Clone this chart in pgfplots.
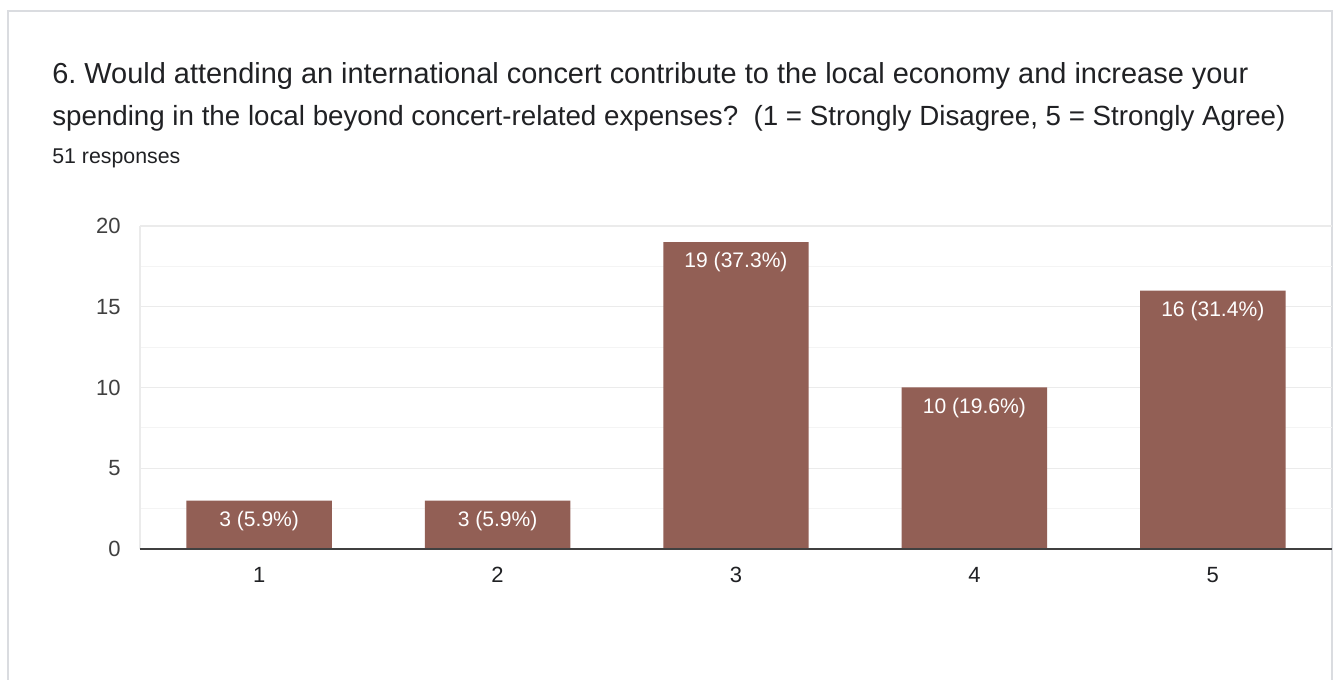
\documentclass[border=0pt]{standalone}
\usepackage{pgfplots}
\pgfplotsset{compat=1.18}
\usepackage{fontspec}
\setmainfont{Liberation Sans}
\definecolor{barc}{RGB}{146,95,85}
\definecolor{titlec}{RGB}{32,33,36}
\definecolor{gridmaj}{RGB}{235,235,235}
\definecolor{gridmin}{RGB}{244,244,244}
\definecolor{cardc}{RGB}{218,220,224}
\begin{document}
\frenchspacing
\begin{tikzpicture}
\path[use as bounding box, fill=white] (0,0) rectangle (1001.25pt,510pt);
\draw[cardc, line width=1.2pt] (6pt,0) -- (6pt,501.75pt) -- (999pt,501.75pt) -- (999pt,0);
\node[anchor=base west, inner sep=0pt, text=titlec, font=\fontsize{21.7}{25}\selectfont] at (39pt,447.5pt) {6. Would attending an international concert contribute to the local economy and increase your};
\node[anchor=base west, inner sep=0pt, text=titlec, font=\fontsize{20.8}{25}\selectfont] at (39pt,415.5pt) {spending in the local beyond concert-related expenses?\ \ (1 = Strongly Disagree, 5 = Strongly Agree)};
\node[anchor=base west, inner sep=0pt, text=titlec, font=\fontsize{16}{19}\selectfont] at (39pt,387pt) {51 responses};
\begin{axis}[
  at={(105pt,98.25pt)}, anchor=south west,
  scale only axis, width=894pt, height=242.25pt,
  xmin=0.5, xmax=5.5, ymin=0, ymax=20,
  xtick={1,2,3,4,5}, ytick={0,5,10,15,20},
  minor ytick={2.5,7.5,12.5,17.5},
  ymajorgrids, yminorgrids,
  major grid style={gridmaj, line width=0.9pt},
  minor grid style={gridmin, line width=0.9pt},
  axis line style={draw=none},
  tick style={draw=none},
  minor tick style={draw=none},
  tick label style={font=\fontsize{16.5}{19}\selectfont},
  yticklabel style={text=black!75, xshift=-11pt},
  xticklabel style={text=titlec, yshift=-6pt},
  /pgf/number format/assume math mode=true,
  ybar, bar width=0.61,
  point meta=explicit symbolic,
  nodes near coords,
  every node near coord/.append style={anchor=north, text=white, inner sep=0pt, yshift=-7.5pt, font=\fontsize{15.8}{18}\selectfont},
  clip=false,
]
\addplot[fill=barc, draw=none] coordinates {
  (1,3) [3 (5.9\%)]
  (2,3) [3 (5.9\%)]
  (3,19) [19 (37.3\%)]
  (4,10) [10 (19.6\%)]
  (5,16) [16 (31.4\%)]
};
\draw[gridmaj, line width=0.9pt] (axis cs:0.5,0) -- (axis cs:0.5,20);
\draw[black!75, line width=1.1pt] (axis cs:0.5,0) -- (axis cs:5.5,0);
\end{axis}
\end{tikzpicture}
\end{document}
